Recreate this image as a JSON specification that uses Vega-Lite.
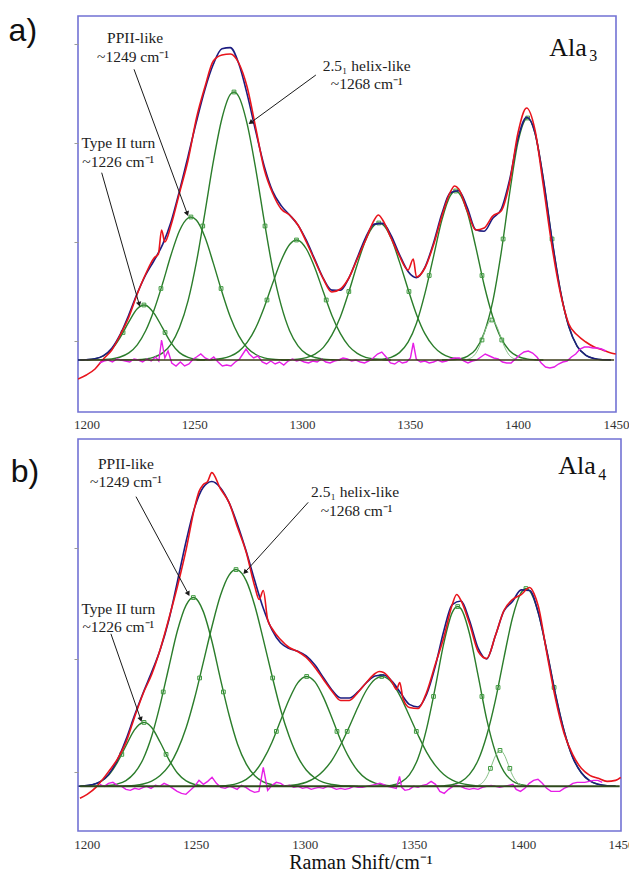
{
"$schema": "https://vega.github.io/schema/vega-lite/v6.json",
"padding": {"left": 7, "top": 14, "right": 0, "bottom": 0},
"spacing": 6,
"config": {"view": {"stroke": "#7272d4", "strokeWidth": 1.6}, "axis": {"grid": false, "domain": false}},
"datasets": {
"a_comp": [
{"c":"1","x":1196,"y":0},{"c":"1","x":1199.9,"y":0.3},{"c":"1","x":1203.9,"y":1.2},{"c":"1","x":1207.8,"y":4},{"c":"1","x":1211.7,"y":10.7},{"c":"1","x":1215.6,"y":22.6},{"c":"1","x":1219.6,"y":38.1},{"c":"1","x":1223.5,"y":51.2},{"c":"1","x":1226.6,"y":55},{"c":"1","x":1227.4,"y":54.8},{"c":"1","x":1231.3,"y":46.7},{"c":"1","x":1235.3,"y":31.8},{"c":"1","x":1239.2,"y":17.2},{"c":"1","x":1243.1,"y":7.4},{"c":"1","x":1247.1,"y":2.6},{"c":"1","x":1251,"y":0.7},{"c":"1","x":1254.9,"y":0},
{"c":"2","x":1199.9,"y":0},{"c":"2","x":1203.9,"y":0.1},{"c":"2","x":1207.8,"y":0.4},{"c":"2","x":1211.7,"y":1.1},{"c":"2","x":1215.6,"y":3},{"c":"2","x":1219.6,"y":7.1},{"c":"2","x":1223.5,"y":15.2},{"c":"2","x":1227.4,"y":29.2},{"c":"2","x":1231.3,"y":50},{"c":"2","x":1235.3,"y":76.7},{"c":"2","x":1239.2,"y":105.2},{"c":"2","x":1243.1,"y":129.3},{"c":"2","x":1247.1,"y":142},{"c":"2","x":1248.4,"y":143},{"c":"2","x":1251,"y":139.7},{"c":"2","x":1254.9,"y":123},{"c":"2","x":1258.8,"y":96.9},{"c":"2","x":1262.8,"y":68.2},{"c":"2","x":1266.7,"y":43},{"c":"2","x":1270.6,"y":24.3},{"c":"2","x":1274.5,"y":12.2},{"c":"2","x":1278.5,"y":5.5},{"c":"2","x":1282.4,"y":2.2},{"c":"2","x":1286.3,"y":0.8},{"c":"2","x":1290.3,"y":0.3},{"c":"2","x":1294.2,"y":0},
{"c":"3","x":1215.6,"y":0},{"c":"3","x":1219.6,"y":0.1},{"c":"3","x":1223.5,"y":0.3},{"c":"3","x":1227.4,"y":1},{"c":"3","x":1231.3,"y":2.8},{"c":"3","x":1235.3,"y":7.1},{"c":"3","x":1239.2,"y":15.9},{"c":"3","x":1243.1,"y":32.4},{"c":"3","x":1247.1,"y":59.3},{"c":"3","x":1251,"y":98.3},{"c":"3","x":1254.9,"y":147.2},{"c":"3","x":1258.8,"y":198.3},{"c":"3","x":1262.8,"y":241.5},{"c":"3","x":1266.7,"y":265.6},{"c":"3","x":1268.4,"y":268},{"c":"3","x":1270.6,"y":263.5},{"c":"3","x":1274.5,"y":236.1},{"c":"3","x":1278.5,"y":190.9},{"c":"3","x":1282.4,"y":139.4},{"c":"3","x":1286.3,"y":91.7},{"c":"3","x":1290.3,"y":54.6},{"c":"3","x":1294.2,"y":29.3},{"c":"3","x":1298.1,"y":14.2},{"c":"3","x":1302,"y":6.2},{"c":"3","x":1306,"y":2.5},{"c":"3","x":1309.9,"y":0.9},{"c":"3","x":1313.8,"y":0.3},{"c":"3","x":1317.8,"y":0},
{"c":"4","x":1251,"y":0},{"c":"4","x":1254.9,"y":0.2},{"c":"4","x":1258.8,"y":0.5},{"c":"4","x":1262.8,"y":1.5},{"c":"4","x":1266.7,"y":3.8},{"c":"4","x":1270.6,"y":8.6},{"c":"4","x":1274.5,"y":17.6},{"c":"4","x":1278.5,"y":32.2},{"c":"4","x":1282.4,"y":52.5},{"c":"4","x":1286.3,"y":76.4},{"c":"4","x":1290.3,"y":99.5},{"c":"4","x":1294.2,"y":115.5},{"c":"4","x":1297.4,"y":120},{"c":"4","x":1298.1,"y":119.8},{"c":"4","x":1302,"y":111},{"c":"4","x":1306,"y":91.8},{"c":"4","x":1309.9,"y":67.9},{"c":"4","x":1313.8,"y":44.8},{"c":"4","x":1317.8,"y":26.4},{"c":"4","x":1321.7,"y":13.9},{"c":"4","x":1325.6,"y":6.6},{"c":"4","x":1329.5,"y":2.7},{"c":"4","x":1333.5,"y":1},{"c":"4","x":1337.4,"y":0.3},{"c":"4","x":1341.3,"y":0},
{"c":"5","x":1290.3,"y":0},{"c":"5","x":1294.2,"y":0.3},{"c":"5","x":1298.1,"y":0.9},{"c":"5","x":1302,"y":2.4},{"c":"5","x":1306,"y":5.8},{"c":"5","x":1309.9,"y":12.6},{"c":"5","x":1313.8,"y":24.8},{"c":"5","x":1317.8,"y":43.3},{"c":"5","x":1321.7,"y":68},{"c":"5","x":1325.6,"y":95.5},{"c":"5","x":1329.5,"y":119.8},{"c":"5","x":1333.5,"y":134.7},{"c":"5","x":1335.6,"y":137},{"c":"5","x":1337.4,"y":135.5},{"c":"5","x":1341.3,"y":122},{"c":"5","x":1345.2,"y":98.1},{"c":"5","x":1349.2,"y":70.7},{"c":"5","x":1353.1,"y":45.6},{"c":"5","x":1357,"y":26.3},{"c":"5","x":1361,"y":13.6},{"c":"5","x":1364.9,"y":6.3},{"c":"5","x":1368.8,"y":2.6},{"c":"5","x":1372.7,"y":1},{"c":"5","x":1376.7,"y":0.3},{"c":"5","x":1380.6,"y":0},
{"c":"6","x":1329.5,"y":0},{"c":"6","x":1333.5,"y":0.2},{"c":"6","x":1337.4,"y":0.8},{"c":"6","x":1341.3,"y":2.7},{"c":"6","x":1345.2,"y":7.4},{"c":"6","x":1349.2,"y":17.8},{"c":"6","x":1353.1,"y":36.8},{"c":"6","x":1357,"y":66.3},{"c":"6","x":1361,"y":103.4},{"c":"6","x":1364.9,"y":140.1},{"c":"6","x":1368.8,"y":164.4},{"c":"6","x":1371.3,"y":169},{"c":"6","x":1372.7,"y":167.3},{"c":"6","x":1376.7,"y":147.7},{"c":"6","x":1380.6,"y":113.1},{"c":"6","x":1384.5,"y":75},{"c":"6","x":1388.5,"y":43.3},{"c":"6","x":1392.4,"y":21.6},{"c":"6","x":1396.3,"y":9.3},{"c":"6","x":1400.2,"y":3.5},{"c":"6","x":1404.2,"y":1.1},{"c":"6","x":1408.1,"y":0.3},{"c":"6","x":1412,"y":0},
{"c":"7","x":1364.9,"y":0},{"c":"7","x":1368.8,"y":0.2},{"c":"7","x":1372.7,"y":1},{"c":"7","x":1376.7,"y":3.6},{"c":"7","x":1380.6,"y":10.6},{"c":"7","x":1384.5,"y":27.1},{"c":"7","x":1388.5,"y":58.6},{"c":"7","x":1392.4,"y":107.2},{"c":"7","x":1396.3,"y":166.3},{"c":"7","x":1400.2,"y":217.8},{"c":"7","x":1404.2,"y":241.7},{"c":"7","x":1404.7,"y":242},{"c":"7","x":1408.1,"y":227},{"c":"7","x":1412,"y":180.5},{"c":"7","x":1415.9,"y":121.7},{"c":"7","x":1419.9,"y":69.2},{"c":"7","x":1423.8,"y":33.4},{"c":"7","x":1427.7,"y":13.6},{"c":"7","x":1431.7,"y":4.7},{"c":"7","x":1435.6,"y":1.4},{"c":"7","x":1439.5,"y":0.3},{"c":"7","x":1443.4,"y":0.1}
],
"a_small": [{"x":1374.7,"y":0},{"x":1376.7,"y":0.6},{"x":1380.6,"y":6.6},{"x":1382.6,"y":15},{"x":1384.5,"y":26.7},{"x":1386.5,"y":36.9},{"x":1388.1,"y":40},{"x":1390.4,"y":33.4},{"x":1392.4,"y":21.8},{"x":1394.4,"y":11.1},{"x":1396.3,"y":4.4},{"x":1398.3,"y":1.4},{"x":1400.2,"y":0.3},{"x":1402,"y":0}],
"a_mk": [{"x":1216.9,"y":27.5},{"x":1226.6,"y":55},{"x":1236.4,"y":27.5},{"x":1234.5,"y":71.5},{"x":1248.4,"y":143},{"x":1262.4,"y":71.5},{"x":1253.9,"y":134},{"x":1268.4,"y":268},{"x":1282.8,"y":134},{"x":1283.7,"y":60},{"x":1297.4,"y":120},{"x":1311.2,"y":60},{"x":1321.7,"y":68.5},{"x":1335.6,"y":137},{"x":1349.6,"y":68.5},{"x":1359,"y":84.5},{"x":1371.3,"y":169},{"x":1383.5,"y":84.5},{"x":1393.3,"y":121},{"x":1404.7,"y":242},{"x":1416,"y":121},{"x":1383.5,"y":20},{"x":1388.1,"y":40},{"x":1392.7,"y":20}],
"a_fit": [{"x":1196,"y":0},{"x":1199.9,"y":0.3},{"x":1203.9,"y":1.3},{"x":1207.8,"y":4.4},{"x":1211.7,"y":11.8},{"x":1215.6,"y":25.6},{"x":1219.6,"y":45.3},{"x":1223.5,"y":66.7},{"x":1227.4,"y":85},{"x":1231.3,"y":99.5},{"x":1235.3,"y":115.6},{"x":1239.2,"y":138.3},{"x":1243.1,"y":169.1},{"x":1247.1,"y":203.9},{"x":1251,"y":238.7},{"x":1254.9,"y":270.6},{"x":1258.8,"y":295.7},{"x":1262.8,"y":311.2},{"x":1266.7,"y":312.4},{"x":1270.6,"y":296.4},{"x":1274.5,"y":265.9},{"x":1278.5,"y":228.6},{"x":1282.4,"y":194.1},{"x":1286.3,"y":168.9},{"x":1290.3,"y":154.4},{"x":1294.2,"y":145.1},{"x":1298.1,"y":134.9},{"x":1302,"y":119.6},{"x":1306,"y":100.1},{"x":1309.9,"y":81.4},{"x":1313.8,"y":69.9},{"x":1317.8,"y":69.7},{"x":1321.7,"y":81.9},{"x":1325.6,"y":102.1},{"x":1329.5,"y":122.5},{"x":1333.5,"y":135.9},{"x":1337.4,"y":136.6},{"x":1341.3,"y":124.7},{"x":1345.2,"y":105.5},{"x":1349.2,"y":88.5},{"x":1353.1,"y":82.4},{"x":1357,"y":92.6},{"x":1361,"y":117},{"x":1364.9,"y":146.4},{"x":1368.8,"y":167.2},{"x":1372.7,"y":169.3},{"x":1376.7,"y":152.2},{"x":1380.6,"y":130.3},{"x":1384.5,"y":128.8},{"x":1388.5,"y":141.7},{"x":1392.4,"y":150.6},{"x":1396.3,"y":180},{"x":1400.2,"y":221.6},{"x":1404.2,"y":242.8},{"x":1408.1,"y":227.3},{"x":1412,"y":180.5},{"x":1415.9,"y":121.7},{"x":1419.9,"y":69.2},{"x":1423.8,"y":33.4},{"x":1427.7,"y":13.6},{"x":1431.7,"y":4.7},{"x":1435.6,"y":1.4},{"x":1439.5,"y":0.3},{"x":1443.4,"y":0.1}],
"a_exp": [{"x":1196,"y":-19},{"x":1199.9,"y":-15},{"x":1203.9,"y":-9},{"x":1207.8,"y":1},{"x":1211.7,"y":10},{"x":1215.6,"y":25},{"x":1219.6,"y":43},{"x":1223.5,"y":66},{"x":1227.4,"y":86},{"x":1231.3,"y":102},{"x":1233.3,"y":106},{"x":1234.8,"y":130},{"x":1236.3,"y":118},{"x":1239.2,"y":135},{"x":1243.1,"y":167},{"x":1247.1,"y":200},{"x":1251,"y":242},{"x":1254.9,"y":273},{"x":1258.8,"y":299},{"x":1262.8,"y":305},{"x":1266.7,"y":306},{"x":1270.6,"y":297},{"x":1274.5,"y":273},{"x":1278.5,"y":232},{"x":1282.4,"y":191},{"x":1286.3,"y":167},{"x":1290.3,"y":151},{"x":1294.2,"y":145},{"x":1298.1,"y":135},{"x":1302,"y":118},{"x":1306,"y":99},{"x":1309.9,"y":81},{"x":1313.8,"y":68},{"x":1317.8,"y":71},{"x":1321.7,"y":82},{"x":1325.6,"y":101},{"x":1329.5,"y":120},{"x":1333.5,"y":140},{"x":1335.4,"y":145},{"x":1337.4,"y":140},{"x":1341.3,"y":122},{"x":1345.2,"y":104},{"x":1349.2,"y":90},{"x":1351.6,"y":101},{"x":1353.1,"y":83},{"x":1357,"y":92},{"x":1361,"y":115},{"x":1364.9,"y":144},{"x":1368.8,"y":168},{"x":1370.8,"y":174},{"x":1372.7,"y":171},{"x":1376.7,"y":149},{"x":1380.6,"y":130},{"x":1384.5,"y":132},{"x":1388.5,"y":144},{"x":1392.4,"y":149},{"x":1396.3,"y":177},{"x":1400.2,"y":227},{"x":1404.2,"y":252},{"x":1408.1,"y":230},{"x":1412,"y":174},{"x":1415.9,"y":115},{"x":1419.9,"y":67},{"x":1423.8,"y":36},{"x":1427.7,"y":25},{"x":1431.7,"y":18},{"x":1435.6,"y":13},{"x":1439.5,"y":10},{"x":1443.4,"y":7},{"x":1445.6,"y":6}],
"a_res": [{"x":1206,"y":-3},{"x":1208,"y":-1},{"x":1210,"y":0},{"x":1212,"y":-2},{"x":1214,"y":1},{"x":1216,"y":0},{"x":1218,"y":-1},{"x":1220,"y":-2},{"x":1222,"y":1},{"x":1224,"y":0},{"x":1226,"y":-2},{"x":1228,"y":1},{"x":1230,"y":-1},{"x":1232,"y":3},{"x":1233.5,"y":-1},{"x":1234.8,"y":20},{"x":1236.3,"y":2},{"x":1237.8,"y":9},{"x":1239.5,"y":-3},{"x":1241.5,"y":-6},{"x":1243.5,"y":-2},{"x":1245.5,"y":-6},{"x":1247.5,"y":-4},{"x":1249.5,"y":1},{"x":1251,"y":3},{"x":1253,"y":6},{"x":1255,"y":2},{"x":1257,"y":0},{"x":1259,"y":3},{"x":1261,"y":-2},{"x":1263,"y":-6},{"x":1265,"y":-5},{"x":1267,"y":-6},{"x":1269,"y":-2},{"x":1271,"y":1},{"x":1272.5,"y":6},{"x":1274,"y":11},{"x":1275.5,"y":6},{"x":1277.5,"y":2},{"x":1279.5,"y":4},{"x":1281.5,"y":-2},{"x":1283.5,"y":-4},{"x":1285.5,"y":-1},{"x":1287.5,"y":-4},{"x":1289.5,"y":-2},{"x":1291.5,"y":-5},{"x":1293.5,"y":-1},{"x":1295.5,"y":1},{"x":1297.5,"y":-1},{"x":1299,"y":0},{"x":1301,"y":-2},{"x":1303,"y":-3},{"x":1305,"y":-1},{"x":1307,"y":-2},{"x":1309,"y":1},{"x":1311,"y":-2},{"x":1313,"y":-3},{"x":1315,"y":-1},{"x":1317,"y":0},{"x":1319,"y":2},{"x":1321,"y":1},{"x":1323,"y":-1},{"x":1325,"y":0},{"x":1327,"y":-2},{"x":1329,"y":-3},{"x":1331,"y":-1},{"x":1333,"y":2},{"x":1335,"y":6},{"x":1337,"y":8},{"x":1339,"y":3},{"x":1341,"y":-3},{"x":1343,"y":-4},{"x":1345,"y":-1},{"x":1346.5,"y":-3},{"x":1348.5,"y":-2},{"x":1350.3,"y":2},{"x":1351.6,"y":17},{"x":1353,"y":1},{"x":1355,"y":-2},{"x":1357,"y":-1},{"x":1359,"y":-3},{"x":1361,"y":-2},{"x":1363,"y":0},{"x":1365,"y":-2},{"x":1367,"y":-1},{"x":1369,"y":1},{"x":1371,"y":2},{"x":1373,"y":2},{"x":1375,"y":-1},{"x":1377,"y":-3},{"x":1379,"y":-1},{"x":1381,"y":0},{"x":1383,"y":3},{"x":1385,"y":6},{"x":1387,"y":4},{"x":1389,"y":2},{"x":1391,"y":1},{"x":1393,"y":-2},{"x":1395,"y":-3},{"x":1397,"y":-3},{"x":1399,"y":1},{"x":1401,"y":5},{"x":1403,"y":8},{"x":1405,"y":9},{"x":1407,"y":7},{"x":1409,"y":3},{"x":1411,"y":-3},{"x":1413,"y":-7},{"x":1415,"y":-8},{"x":1417,"y":-7},{"x":1419,"y":-4},{"x":1421,"y":-2},{"x":1423,"y":-1},{"x":1425,"y":3},{"x":1427,"y":6},{"x":1429,"y":11},{"x":1431,"y":13},{"x":1433,"y":13},{"x":1435,"y":12},{"x":1437,"y":12},{"x":1439,"y":11},{"x":1441,"y":9}],
"a_arr": [{"x":1207,"y":187.3,"x2":1224.4,"y2":55.7},{"x":1222,"y":290.7,"x2":1246.7,"y2":146.3},{"x":1306.4,"y":285,"x2":1276.1,"y2":237.3}],
"a_head": [{"x":1224.4,"y":55.7,"tx":1207,"ty":187.3},{"x":1246.7,"y":146.3,"tx":1222,"ty":290.7},{"x":1276.1,"y":237.3,"tx":1306.4,"ty":285}],
"a_txt": [{"x":1222.5,"y":322.3,"t":"PPII-like"},{"x":1221.5,"y":303,"t":"~1249 cm⁻¹"},{"x":1214.7,"y":217.3,"t":"Type II turn"},{"x":1214.7,"y":198,"t":"~1226 cm⁻¹"},{"x":1330,"y":294,"t":"2.5₁ helix-like"},{"x":1330,"y":275.7,"t":"~1268 cm⁻¹"}],
"b_comp": [
{"c":"1","x":1196.3,"y":0.2},{"c":"1","x":1198.3,"y":0.4},{"c":"1","x":1202.2,"y":1.4},{"c":"1","x":1206.2,"y":4.4},{"c":"1","x":1210.1,"y":11.3},{"c":"1","x":1214,"y":23.7},{"c":"1","x":1218,"y":40.6},{"c":"1","x":1221.9,"y":56.5},{"c":"1","x":1225.9,"y":63.9},{"c":"1","x":1226.3,"y":64},{"c":"1","x":1229.8,"y":58.9},{"c":"1","x":1233.7,"y":44.1},{"c":"1","x":1237.7,"y":26.8},{"c":"1","x":1241.6,"y":13.3},{"c":"1","x":1245.6,"y":5.4},{"c":"1","x":1249.5,"y":1.8},{"c":"1","x":1253.4,"y":0.5},{"c":"1","x":1257.4,"y":0},
{"c":"2","x":1198.3,"y":0},{"c":"2","x":1202.2,"y":0.1},{"c":"2","x":1206.2,"y":0.2},{"c":"2","x":1210.1,"y":0.8},{"c":"2","x":1214,"y":2.3},{"c":"2","x":1218,"y":5.8},{"c":"2","x":1221.9,"y":13.3},{"c":"2","x":1225.9,"y":27.4},{"c":"2","x":1229.8,"y":50.1},{"c":"2","x":1233.7,"y":81.8},{"c":"2","x":1237.7,"y":119.5},{"c":"2","x":1241.6,"y":155.7},{"c":"2","x":1245.6,"y":181.4},{"c":"2","x":1248.9,"y":189},{"c":"2","x":1249.5,"y":188.8},{"c":"2","x":1253.4,"y":175.4},{"c":"2","x":1257.4,"y":145.5},{"c":"2","x":1261.3,"y":107.9},{"c":"2","x":1265.3,"y":71.4},{"c":"2","x":1269.2,"y":42.2},{"c":"2","x":1273.2,"y":22.3},{"c":"2","x":1277.1,"y":10.5},{"c":"2","x":1281,"y":4.4},{"c":"2","x":1285,"y":1.7},{"c":"2","x":1288.9,"y":0.6},{"c":"2","x":1292.9,"y":0.2},{"c":"2","x":1296.8,"y":0},
{"c":"3","x":1210.1,"y":0},{"c":"3","x":1214,"y":0.1},{"c":"3","x":1218,"y":0.4},{"c":"3","x":1221.9,"y":1},{"c":"3","x":1225.9,"y":2.4},{"c":"3","x":1229.8,"y":5.3},{"c":"3","x":1233.7,"y":10.8},{"c":"3","x":1237.7,"y":20.4},{"c":"3","x":1241.6,"y":36},{"c":"3","x":1245.6,"y":58.6},{"c":"3","x":1249.5,"y":88.4},{"c":"3","x":1253.4,"y":123.3},{"c":"3","x":1257.4,"y":159.5},{"c":"3","x":1261.3,"y":190.7},{"c":"3","x":1265.3,"y":211.4},{"c":"3","x":1268.5,"y":217},{"c":"3","x":1269.2,"y":216.7},{"c":"3","x":1273.2,"y":205.7},{"c":"3","x":1277.1,"y":180.8},{"c":"3","x":1281,"y":147.2},{"c":"3","x":1285,"y":110.7},{"c":"3","x":1288.9,"y":77.2},{"c":"3","x":1292.9,"y":49.9},{"c":"3","x":1296.8,"y":29.8},{"c":"3","x":1300.7,"y":16.4},{"c":"3","x":1304.7,"y":8.4},{"c":"3","x":1308.6,"y":4},{"c":"3","x":1312.6,"y":1.8},{"c":"3","x":1316.5,"y":0.7},{"c":"3","x":1320.5,"y":0.3},{"c":"3","x":1324.4,"y":0},
{"c":"4","x":1253.4,"y":0},{"c":"4","x":1257.4,"y":0.1},{"c":"4","x":1261.3,"y":0.4},{"c":"4","x":1265.3,"y":1.2},{"c":"4","x":1269.2,"y":3},{"c":"4","x":1273.2,"y":7},{"c":"4","x":1277.1,"y":14.4},{"c":"4","x":1281,"y":26.7},{"c":"4","x":1285,"y":44.2},{"c":"4","x":1288.9,"y":65.6},{"c":"4","x":1292.9,"y":87.1},{"c":"4","x":1296.8,"y":103.5},{"c":"4","x":1300.7,"y":110},{"c":"4","x":1304.7,"y":104.6},{"c":"4","x":1308.6,"y":89.1},{"c":"4","x":1312.6,"y":67.9},{"c":"4","x":1316.5,"y":46.2},{"c":"4","x":1320.5,"y":28.2},{"c":"4","x":1324.4,"y":15.4},{"c":"4","x":1328.3,"y":7.5},{"c":"4","x":1332.3,"y":3.3},{"c":"4","x":1336.2,"y":1.3},{"c":"4","x":1340.2,"y":0.4},{"c":"4","x":1344.1,"y":0},
{"c":"5","x":1281,"y":0},{"c":"5","x":1285,"y":0.1},{"c":"5","x":1288.9,"y":0.3},{"c":"5","x":1292.9,"y":0.8},{"c":"5","x":1296.8,"y":1.9},{"c":"5","x":1300.7,"y":4.1},{"c":"5","x":1304.7,"y":8.4},{"c":"5","x":1308.6,"y":15.6},{"c":"5","x":1312.6,"y":26.5},{"c":"5","x":1316.5,"y":41.6},{"c":"5","x":1320.5,"y":59.9},{"c":"5","x":1324.4,"y":79.2},{"c":"5","x":1328.3,"y":96.2},{"c":"5","x":1332.3,"y":107.2},{"c":"5","x":1335.3,"y":110},{"c":"5","x":1336.2,"y":109.8},{"c":"5","x":1340.2,"y":103.2},{"c":"5","x":1344.1,"y":89.1},{"c":"5","x":1348,"y":70.6},{"c":"5","x":1352,"y":51.4},{"c":"5","x":1355.9,"y":34.3},{"c":"5","x":1359.9,"y":21},{"c":"5","x":1363.8,"y":11.9},{"c":"5","x":1367.7,"y":6.2},{"c":"5","x":1371.7,"y":2.9},{"c":"5","x":1375.6,"y":1.3},{"c":"5","x":1379.6,"y":0.5},{"c":"5","x":1383.5,"y":0.2},{"c":"5","x":1387.5,"y":0},
{"c":"6","x":1332.3,"y":0},{"c":"6","x":1336.2,"y":0.3},{"c":"6","x":1340.2,"y":1.2},{"c":"6","x":1344.1,"y":4},{"c":"6","x":1348,"y":11.5},{"c":"6","x":1352,"y":28.1},{"c":"6","x":1355.9,"y":57.6},{"c":"6","x":1359.9,"y":99},{"c":"6","x":1363.8,"y":143.1},{"c":"6","x":1367.7,"y":174.1},{"c":"6","x":1370.2,"y":180},{"c":"6","x":1371.7,"y":177.8},{"c":"6","x":1375.6,"y":152.8},{"c":"6","x":1379.6,"y":110.3},{"c":"6","x":1383.5,"y":67},{"c":"6","x":1387.5,"y":34.2},{"c":"6","x":1391.4,"y":14.7},{"c":"6","x":1395.3,"y":5.3},{"c":"6","x":1399.3,"y":1.6},{"c":"6","x":1403.2,"y":0.4},{"c":"6","x":1407.2,"y":0},
{"c":"7","x":1355.9,"y":0},{"c":"7","x":1359.9,"y":0.1},{"c":"7","x":1363.8,"y":0.5},{"c":"7","x":1367.7,"y":1.7},{"c":"7","x":1371.7,"y":4.8},{"c":"7","x":1375.6,"y":12},{"c":"7","x":1379.6,"y":26.3},{"c":"7","x":1383.5,"y":50.9},{"c":"7","x":1387.5,"y":86.3},{"c":"7","x":1391.4,"y":128.7},{"c":"7","x":1395.3,"y":168.5},{"c":"7","x":1399.3,"y":193.8},{"c":"7","x":1401.5,"y":198},{"c":"7","x":1403.2,"y":195.7},{"c":"7","x":1407.2,"y":173.4},{"c":"7","x":1411.1,"y":135.2},{"c":"7","x":1415,"y":92.5},{"c":"7","x":1419,"y":55.4},{"c":"7","x":1422.9,"y":29.3},{"c":"7","x":1426.9,"y":13.6},{"c":"7","x":1430.8,"y":5.5},{"c":"7","x":1434.7,"y":2},{"c":"7","x":1438.7,"y":0.6},{"c":"7","x":1442.6,"y":0.2}
],
"b_small": [{"x":1377.6,"y":0},{"x":1379.6,"y":1},{"x":1381.5,"y":3.5},{"x":1383.5,"y":9.5},{"x":1385.5,"y":19.6},{"x":1387.5,"y":30.5},{"x":1389.6,"y":36},{"x":1391.4,"y":32.2},{"x":1393.4,"y":21.8},{"x":1395.3,"y":11.2},{"x":1397.3,"y":4.4},{"x":1399.3,"y":1.3},{"x":1401.2,"y":0}],
"b_mk": [{"x":1216.1,"y":32},{"x":1226.3,"y":64},{"x":1236.4,"y":32},{"x":1235.1,"y":94.5},{"x":1248.9,"y":189},{"x":1262.7,"y":94.5},{"x":1251.8,"y":108.5},{"x":1268.5,"y":217},{"x":1285.3,"y":108.5},{"x":1287,"y":55},{"x":1300.9,"y":110},{"x":1314.8,"y":55},{"x":1319.5,"y":55},{"x":1335.3,"y":110},{"x":1351.2,"y":55},{"x":1359.1,"y":90},{"x":1370.2,"y":180},{"x":1381.3,"y":90},{"x":1388.7,"y":99},{"x":1401.5,"y":198},{"x":1414.4,"y":99},{"x":1385.2,"y":18},{"x":1389.6,"y":36},{"x":1394.1,"y":18}],
"b_fit": [{"x":1196.3,"y":0.1},{"x":1198.3,"y":0.4},{"x":1202.2,"y":1.5},{"x":1206.2,"y":4.6},{"x":1210.1,"y":12.1},{"x":1214,"y":26.1},{"x":1218,"y":46.8},{"x":1221.9,"y":70.8},{"x":1225.9,"y":93.7},{"x":1229.8,"y":114.3},{"x":1233.7,"y":136.7},{"x":1237.7,"y":166.7},{"x":1241.6,"y":205},{"x":1245.6,"y":245.4},{"x":1249.5,"y":279},{"x":1253.4,"y":299.2},{"x":1257.4,"y":305.2},{"x":1261.3,"y":299},{"x":1265.3,"y":284},{"x":1269.2,"y":261.9},{"x":1273.2,"y":235},{"x":1277.1,"y":205.7},{"x":1281,"y":178.3},{"x":1285,"y":156.7},{"x":1288.9,"y":143.7},{"x":1292.9,"y":138},{"x":1296.8,"y":135.2},{"x":1300.7,"y":130.5},{"x":1304.7,"y":121.4},{"x":1308.6,"y":108.7},{"x":1312.6,"y":96.2},{"x":1316.5,"y":88.5},{"x":1320.5,"y":88.4},{"x":1324.4,"y":94.6},{"x":1328.3,"y":103.7},{"x":1332.3,"y":110.5},{"x":1336.2,"y":111.4},{"x":1340.2,"y":104.8},{"x":1344.1,"y":93.1},{"x":1348,"y":82.1},{"x":1352,"y":79.5},{"x":1355.9,"y":91.9},{"x":1359.9,"y":120.1},{"x":1363.8,"y":155.5},{"x":1367.7,"y":182},{"x":1371.7,"y":185.5},{"x":1375.6,"y":166.1},{"x":1379.6,"y":138.1},{"x":1383.5,"y":127.6},{"x":1387.5,"y":151},{"x":1391.4,"y":175.6},{"x":1395.3,"y":185},{"x":1399.3,"y":196.7},{"x":1403.2,"y":196.1},{"x":1407.2,"y":173.4},{"x":1411.1,"y":135.2},{"x":1415,"y":92.5},{"x":1419,"y":55.4},{"x":1422.9,"y":29.3},{"x":1426.9,"y":13.6},{"x":1430.8,"y":5.5},{"x":1434.7,"y":2},{"x":1438.7,"y":0.6},{"x":1442.6,"y":0.2}],
"b_exp": [{"x":1196.9,"y":-12},{"x":1200.2,"y":-8},{"x":1204.2,"y":-1},{"x":1206.2,"y":4},{"x":1210.1,"y":15},{"x":1214,"y":27},{"x":1218,"y":44},{"x":1221.9,"y":69},{"x":1225.9,"y":93},{"x":1229.8,"y":112},{"x":1233.7,"y":137},{"x":1237.7,"y":168},{"x":1241.6,"y":200},{"x":1245.6,"y":237},{"x":1249.5,"y":279},{"x":1251.5,"y":295},{"x":1253.4,"y":302},{"x":1255.4,"y":305},{"x":1257.4,"y":314},{"x":1261.3,"y":298},{"x":1265.3,"y":284},{"x":1269.2,"y":259},{"x":1273.2,"y":234},{"x":1277.1,"y":200},{"x":1279.1,"y":187},{"x":1281,"y":196},{"x":1283,"y":167},{"x":1285,"y":158},{"x":1288.9,"y":147},{"x":1292.9,"y":139},{"x":1296.8,"y":135},{"x":1300.7,"y":129},{"x":1304.7,"y":119},{"x":1308.6,"y":107},{"x":1312.6,"y":95},{"x":1316.5,"y":86},{"x":1320.5,"y":86},{"x":1324.4,"y":94},{"x":1328.3,"y":104},{"x":1332.3,"y":113},{"x":1334.2,"y":115},{"x":1336.2,"y":114},{"x":1340.2,"y":104},{"x":1342.1,"y":97},{"x":1343.6,"y":104},{"x":1345.1,"y":88},{"x":1348,"y":79},{"x":1352,"y":78},{"x":1355.9,"y":94},{"x":1359.9,"y":122},{"x":1363.8,"y":149},{"x":1367.7,"y":182},{"x":1369.7,"y":192},{"x":1371.7,"y":186},{"x":1375.6,"y":163},{"x":1379.6,"y":135},{"x":1383.5,"y":128},{"x":1387.5,"y":151},{"x":1391.4,"y":176},{"x":1395.3,"y":187},{"x":1399.3,"y":192},{"x":1403.2,"y":199},{"x":1405.2,"y":193},{"x":1407.2,"y":180},{"x":1411.1,"y":133},{"x":1415,"y":88},{"x":1419,"y":53},{"x":1422.9,"y":32},{"x":1426.9,"y":18},{"x":1430.8,"y":11},{"x":1434.7,"y":8},{"x":1438.7,"y":5},{"x":1442.6,"y":6},{"x":1445,"y":9}],
"b_res": [{"x":1206,"y":2},{"x":1208,"y":0},{"x":1210,"y":3},{"x":1212,"y":4},{"x":1214,"y":1},{"x":1216,"y":0},{"x":1218,"y":-3},{"x":1220,"y":-4},{"x":1222,"y":-2},{"x":1224,"y":-3},{"x":1226,"y":-1},{"x":1227.5,"y":0},{"x":1229.5,"y":-2},{"x":1231.5,"y":1},{"x":1233.5,"y":0},{"x":1235.5,"y":3},{"x":1237.5,"y":1},{"x":1239.5,"y":-2},{"x":1241.5,"y":-5},{"x":1243.5,"y":-7},{"x":1245.5,"y":-8},{"x":1247.5,"y":-4},{"x":1249.5,"y":0},{"x":1251.5,"y":6},{"x":1253.5,"y":2},{"x":1255.5,"y":5},{"x":1257.5,"y":9},{"x":1259.5,"y":3},{"x":1261.5,"y":-1},{"x":1263.5,"y":-2},{"x":1265.5,"y":0},{"x":1267,"y":-1},{"x":1269,"y":-3},{"x":1271,"y":1},{"x":1273,"y":-1},{"x":1275,"y":-4},{"x":1277,"y":-6},{"x":1279,"y":-5},{"x":1281,"y":19},{"x":1283,"y":-4},{"x":1285,"y":1},{"x":1287,"y":4},{"x":1289,"y":3},{"x":1291,"y":0},{"x":1293,"y":1},{"x":1295,"y":-1},{"x":1297,"y":0},{"x":1299,"y":-2},{"x":1301,"y":-1},{"x":1303,"y":-3},{"x":1304.5,"y":-2},{"x":1306.5,"y":-1},{"x":1308.5,"y":-2},{"x":1310.5,"y":0},{"x":1312.5,"y":-1},{"x":1314.5,"y":-3},{"x":1316.5,"y":-2},{"x":1318.5,"y":-3},{"x":1320.5,"y":-2},{"x":1322.5,"y":0},{"x":1324.5,"y":-1},{"x":1326.5,"y":-1},{"x":1328.5,"y":0},{"x":1330.5,"y":1},{"x":1332.5,"y":2},{"x":1334.5,"y":3},{"x":1336,"y":2},{"x":1338,"y":0},{"x":1340,"y":-1},{"x":1342,"y":-2},{"x":1343.5,"y":10},{"x":1344.5,"y":-1},{"x":1346,"y":-4},{"x":1348,"y":-3},{"x":1350,"y":0},{"x":1352,"y":-1},{"x":1354,"y":1},{"x":1356,"y":2},{"x":1358,"y":5},{"x":1360,"y":2},{"x":1362,"y":-5},{"x":1364,"y":-7},{"x":1366,"y":-3},{"x":1368,"y":0},{"x":1369.5,"y":1},{"x":1371.5,"y":0},{"x":1373.5,"y":-2},{"x":1375.5,"y":-3},{"x":1377.5,"y":-2},{"x":1379.5,"y":-3},{"x":1381.5,"y":-1},{"x":1383.5,"y":0},{"x":1385.5,"y":1},{"x":1387.5,"y":0},{"x":1389.5,"y":-1},{"x":1391.5,"y":0},{"x":1393.5,"y":1},{"x":1395.5,"y":2},{"x":1397,"y":-3},{"x":1399,"y":-5},{"x":1401,"y":-2},{"x":1403,"y":3},{"x":1405,"y":6},{"x":1407,"y":7},{"x":1409,"y":3},{"x":1411,"y":-2},{"x":1413,"y":-5},{"x":1415,"y":-5},{"x":1417,"y":-5},{"x":1419,"y":-2},{"x":1421,"y":0},{"x":1423,"y":3},{"x":1425,"y":4},{"x":1426.5,"y":4},{"x":1428.5,"y":4},{"x":1430.5,"y":5},{"x":1432.5,"y":6},{"x":1434.5,"y":6},{"x":1436.5,"y":4}],
"b_arr": [{"x":1211.1,"y":152.7,"x2":1224.8,"y2":67},{"x":1222.6,"y":290,"x2":1246.6,"y2":192.7},{"x":1301.6,"y":284.3,"x2":1272.6,"y2":214.3}],
"b_head": [{"x":1224.8,"y":67,"tx":1211.1,"ty":152.7},{"x":1246.6,"y":192.7,"tx":1222.6,"ty":290},{"x":1272.6,"y":214.3,"tx":1301.6,"ty":284.3}],
"b_txt": [{"x":1218,"y":322.7,"t":"PPII-like"},{"x":1218,"y":304.3,"t":"~1249 cm⁻¹"},{"x":1214.5,"y":177.7,"t":"Type II turn"},{"x":1214.5,"y":159.3,"t":"~1226 cm⁻¹"},{"x":1323.1,"y":294.3,"t":"2.5₁ helix-like"},{"x":1323.8,"y":276,"t":"~1268 cm⁻¹"}]
},
"vconcat": [
{
"width": 538, "height": 396,
"encoding": {
"x": {"field": "x", "type": "quantitative", "scale": {"domain": [1196, 1445.7], "nice": false, "zero": false},
 "axis": {"title": null, "values": [1200, 1250, 1300, 1350, 1400, 1445.7], "format": "d", "labelExpr": "datum.value > 1440 ? '1450' : datum.label", "ticks": false, "domain": false, "grid": false, "labelFont": "Liberation Serif", "labelFontSize": 13, "labelColor": "#333", "labelPadding": 6, "labelFlush": false, "labelOverlap": false, "labelBound": false}},
"y": {"field": "y", "type": "quantitative", "scale": {"domain": [-52, 344], "nice": false, "zero": false},
 "axis": {"title": null, "values": [19, 118, 217, 316], "labels": false, "ticks": true, "tickSize": 4, "tickColor": "#9a9a9a", "tickWidth": 1, "domain": false, "grid": false}}
},
"layer": [
{"data": {"name": "a_comp"}, "mark": {"type": "line", "color": "#2b7d2b", "strokeWidth": 1.4, "interpolate": "monotone", "clip": true}, "encoding": {"detail": {"field": "c", "type": "nominal"}}},
{"data": {"name": "a_small"}, "mark": {"type": "line", "color": "#86bf86", "strokeWidth": 1, "interpolate": "monotone", "clip": true}},
{"data": {"name": "a_mk"}, "mark": {"type": "point", "shape": "square", "filled": false, "size": 14, "color": "#3f9a3f", "strokeWidth": 1, "opacity": 1}},
{"data": {"name": "a_fit"}, "mark": {"type": "line", "color": "#1c1c80", "strokeWidth": 1.6, "interpolate": "monotone", "clip": true}},
{"data": {"name": "a_exp"}, "mark": {"type": "line", "color": "#e8141c", "strokeWidth": 1.6, "interpolate": "monotone", "clip": true}},
{"data": {"name": "a_res"}, "mark": {"type": "line", "color": "#e61ee6", "strokeWidth": 1.4, "clip": true}},
{"data": {"values": [{"x": 1197, "x2": 1444.8, "y": 0}]}, "mark": {"type": "rule", "color": "#3b3b18", "strokeWidth": 1.5}, "encoding": {"x2": {"field": "x2"}}},
{"data": {"name": "a_arr"}, "mark": {"type": "rule", "color": "#1a1a1a", "strokeWidth": 1}, "encoding": {"x2": {"field": "x2"}, "y2": {"field": "y2"}}},
{"data": {"name": "a_head"}, "transform": [{"calculate": "atan2((datum.x-datum.tx)*2.1546, (datum.y-datum.ty))*180/PI", "as": "ang"}], "mark": {"type": "point", "shape": "triangle-up", "filled": true, "size": 30, "color": "#1a1a1a", "opacity": 1}, "encoding": {"angle": {"field": "ang", "type": "quantitative", "scale": null}}},
{"data": {"name": "a_txt"}, "mark": {"type": "text", "font": "Liberation Serif", "fontSize": 15.5, "color": "#222", "align": "center", "baseline": "middle"}, "encoding": {"text": {"field": "t"}}},
{"data": {"values": [{"x": 1414.7, "y": 304, "t": "Ala"}]}, "mark": {"type": "text", "font": "Liberation Serif", "fontSize": 26, "color": "#111", "align": "left", "baseline": "alphabetic"}, "encoding": {"text": {"field": "t"}}},
{"data": {"values": [{"x": 1433.3, "y": 299, "t": "3"}]}, "mark": {"type": "text", "font": "Liberation Serif", "fontSize": 16, "color": "#111", "align": "left", "baseline": "alphabetic"}, "encoding": {"text": {"field": "t"}}},
{"data": {"values": [{"x": 1163.8, "y": 319, "t": "a)"}]}, "mark": {"type": "text", "font": "Liberation Sans", "fontSize": 32, "color": "#111", "align": "left", "baseline": "alphabetic"}, "encoding": {"text": {"field": "t"}}}
]
},
{
"width": 543, "height": 392,
"encoding": {
"x": {"field": "x", "type": "quantitative", "scale": {"domain": [1196, 1445.1], "nice": false, "zero": false},
 "axis": {"title": "Raman Shift/cm⁻¹", "titleFont": "Liberation Serif", "titleFontSize": 20, "titleFontWeight": "normal", "titleColor": "#111", "titlePadding": 1, "titleX": 282.5, "values": [1200, 1250, 1300, 1350, 1400, 1445.1], "format": "d", "labelExpr": "datum.value > 1440 ? '1450' : datum.label", "ticks": false, "domain": false, "grid": false, "labelFont": "Liberation Serif", "labelFontSize": 13, "labelColor": "#333", "labelPadding": 7, "labelFlush": false, "labelOverlap": false, "labelBound": false}},
"y": {"field": "y", "type": "quantitative", "scale": {"domain": [-44.7, 347.7], "nice": false, "zero": false},
 "axis": {"title": null, "values": [14, 127, 239], "labels": false, "ticks": true, "tickSize": 4, "tickColor": "#9a9a9a", "tickWidth": 1, "domain": false, "grid": false}}
},
"layer": [
{"data": {"name": "b_comp"}, "mark": {"type": "line", "color": "#2b7d2b", "strokeWidth": 1.4, "interpolate": "monotone", "clip": true}, "encoding": {"detail": {"field": "c", "type": "nominal"}}},
{"data": {"name": "b_small"}, "mark": {"type": "line", "color": "#86bf86", "strokeWidth": 1, "interpolate": "monotone", "clip": true}},
{"data": {"name": "b_mk"}, "mark": {"type": "point", "shape": "square", "filled": false, "size": 14, "color": "#3f9a3f", "strokeWidth": 1, "opacity": 1}},
{"data": {"name": "b_fit"}, "mark": {"type": "line", "color": "#1c1c80", "strokeWidth": 1.6, "interpolate": "monotone", "clip": true}},
{"data": {"name": "b_exp"}, "mark": {"type": "line", "color": "#e8141c", "strokeWidth": 1.6, "interpolate": "monotone", "clip": true}},
{"data": {"name": "b_res"}, "mark": {"type": "line", "color": "#e61ee6", "strokeWidth": 1.4, "clip": true}},
{"data": {"values": [{"x": 1197, "x2": 1444.5, "y": 0}]}, "mark": {"type": "rule", "color": "#2f4a1c", "strokeWidth": 2}, "encoding": {"x2": {"field": "x2"}}},
{"data": {"name": "b_arr"}, "mark": {"type": "rule", "color": "#1a1a1a", "strokeWidth": 1}, "encoding": {"x2": {"field": "x2"}, "y2": {"field": "y2"}}},
{"data": {"name": "b_head"}, "transform": [{"calculate": "atan2((datum.x-datum.tx)*2.1798, (datum.y-datum.ty))*180/PI", "as": "ang"}], "mark": {"type": "point", "shape": "triangle-up", "filled": true, "size": 30, "color": "#1a1a1a", "opacity": 1}, "encoding": {"angle": {"field": "ang", "type": "quantitative", "scale": null}}},
{"data": {"name": "b_txt"}, "mark": {"type": "text", "font": "Liberation Serif", "fontSize": 15.5, "color": "#222", "align": "center", "baseline": "middle"}, "encoding": {"text": {"field": "t"}}},
{"data": {"values": [{"x": 1416.3, "y": 312.7, "t": "Ala"}]}, "mark": {"type": "text", "font": "Liberation Serif", "fontSize": 26, "color": "#111", "align": "left", "baseline": "alphabetic"}, "encoding": {"text": {"field": "t"}}},
{"data": {"values": [{"x": 1434.7, "y": 306.7, "t": "4"}]}, "mark": {"type": "text", "font": "Liberation Serif", "fontSize": 16, "color": "#111", "align": "left", "baseline": "alphabetic"}, "encoding": {"text": {"field": "t"}}},
{"data": {"values": [{"x": 1165.1, "y": 304.3, "t": "b)"}]}, "mark": {"type": "text", "font": "Liberation Sans", "fontSize": 32, "color": "#111", "align": "left", "baseline": "alphabetic"}, "encoding": {"text": {"field": "t"}}}
]
}
]
}
